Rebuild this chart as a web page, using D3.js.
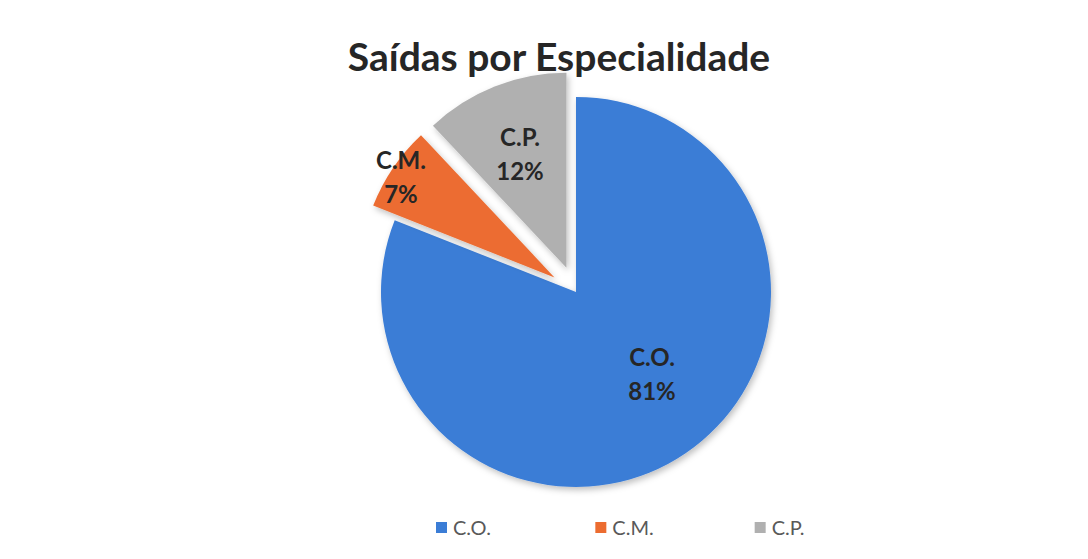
<!DOCTYPE html>
<html>
<head>
<meta charset="utf-8">
<script src="https://cdn.jsdelivr.net/npm/d3@7"></script>
<style>
  body { margin: 0; background: #fff; }
  svg { display: block; }
</style>
</head>
<body>
<div id="chart"></div>
<script>
const categories = ["C.O.", "C.M.", "C.P."];
const values = [81, 7, 12];
const colors = ["rgb(59,125,214)", "rgb(236,108,48)", "rgb(176,176,176)"];
const exploded = [0, 26, 26];

const width = 1088, height = 559;
const cx = 576, cy = 292, radius = 195;
const fontFamily = "Lato, 'Open Sans', sans-serif";

const svg = d3.select("#chart")
    .append("svg")
    .attr("width", width)
    .attr("height", height);

// soft shadow like the office chart
const defs = svg.append("defs");
const filter = defs.append("filter")
    .attr("id", "shadow")
    .attr("x", "-20%").attr("y", "-20%")
    .attr("width", "140%").attr("height", "140%");
filter.append("feDropShadow")
    .attr("dx", 2).attr("dy", 3)
    .attr("stdDeviation", 3)
    .attr("flood-color", "#000")
    .attr("flood-opacity", 0.25);

// Title
svg.append("text")
    .attr("x", 559)
    .attr("y", 71)
    .attr("text-anchor", "middle")
    .attr("font-family", fontFamily)
    .attr("font-weight", "bold")
    .attr("font-size", 39)
    .attr("fill", "#262626")
    .text("Saídas por Especialidade");

const data = categories.map((c, i) => ({ name: c, value: values[i], i: i }));

const pie = d3.pie()
    .sort(null)
    .value(d => d.value);

const arc = d3.arc()
    .innerRadius(0)
    .outerRadius(radius);

const arcs = pie(data);

const g = svg.append("g")
    .attr("transform", "translate(" + cx + "," + cy + ")");

const slices = g.selectAll("g.slice")
    .data(arcs)
    .enter()
    .append("g")
    .attr("class", "slice")
    .attr("transform", d => {
        const a = (d.startAngle + d.endAngle) / 2;
        const off = exploded[d.data.i];
        return "translate(" + (Math.sin(a) * off) + "," + (-Math.cos(a) * off) + ")";
    });

slices.append("path")
    .attr("d", arc)
    .attr("fill", d => colors[d.data.i])
    .attr("filter", "url(#shadow)");

// Data labels (category + percentage)
const labelPos = {
    "C.O.": [76, 74],
    "C.M.": [-175, -123],
    "C.P.": [-56, -146]
};

arcs.forEach(d => {
    const p = labelPos[d.data.name];
    const lab = g.append("text")
        .attr("x", p[0])
        .attr("y", p[1])
        .attr("text-anchor", "middle")
        .attr("font-family", fontFamily)
        .attr("font-weight", "bold")
        .attr("font-size", 24)
        .attr("fill", "#262626");
    lab.append("tspan")
        .attr("x", p[0])
        .text(d.data.name);
    lab.append("tspan")
        .attr("x", p[0])
        .attr("dy", 34)
        .text(d3.format(".0f")(d.data.value) + "%");
});

// Legend
const legendX = d3.scaleBand()
    .domain(categories)
    .range([436, 914]);

const legend = svg.selectAll("g.legend")
    .data(categories)
    .enter()
    .append("g")
    .attr("class", "legend")
    .attr("transform", d => "translate(" + legendX(d) + ",528)");

legend.append("rect")
    .attr("x", 0)
    .attr("y", -6)
    .attr("width", 11)
    .attr("height", 11)
    .attr("fill", (d, i) => colors[i]);

legend.append("text")
    .attr("x", 17)
    .attr("y", 7)
    .attr("font-family", fontFamily)
    .attr("font-size", 20)
    .attr("fill", "#595959")
    .text(d => d);
</script>
</body>
</html>
